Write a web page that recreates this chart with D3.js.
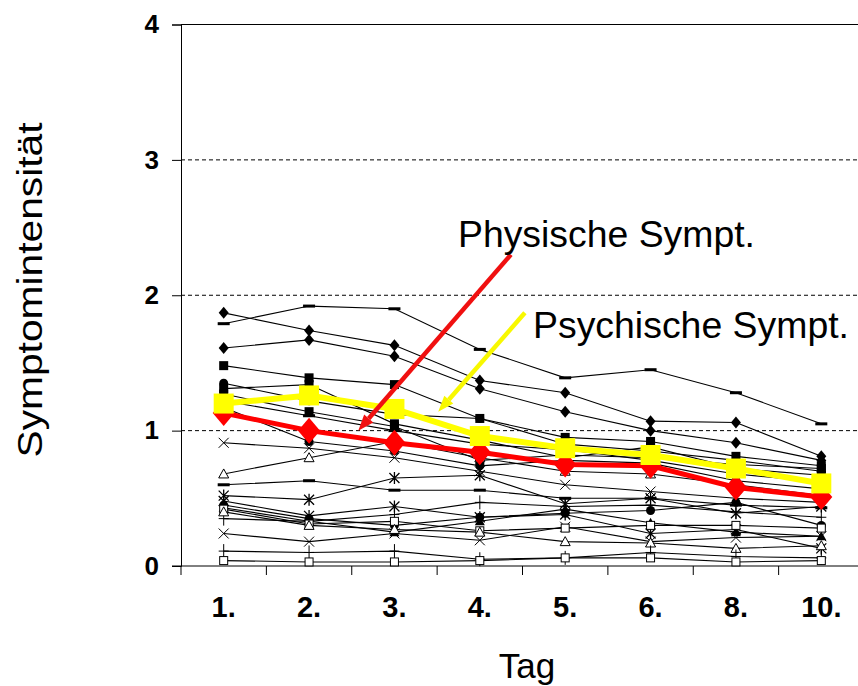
<!DOCTYPE html>
<html>
<head>
<meta charset="utf-8">
<script src="https://cdn.jsdelivr.net/npm/d3@7"></script>
<style>
  html, body { margin: 0; padding: 0; background: #fff; }
  svg { display: block; }
  text { font-family: "Liberation Sans", Arial, sans-serif; fill: #000; }
</style>
</head>
<body>
<svg id="chart" width="858" height="686"></svg>
<script>
// Days of observation and y-axis ticks
const days = ["1.", "2.", "3.", "4.", "5.", "6.", "8.", "10."];
const yTicks = [0, 1, 2, 3, 4];

// Group means
const physisch  = [1.13, 1.00, 0.91, 0.84, 0.75, 0.74, 0.58, 0.51];
const psychisch = [1.20, 1.26, 1.16, 0.96, 0.87, 0.82, 0.72, 0.61];

// Individual courses (one array per person) and their marker shapes
const p01 = [1.79, 1.92, 1.90, 1.60, 1.39, 1.45, 1.28, 1.05];
const p02 = [1.87, 1.74, 1.63, 1.37, 1.28, 1.07, 1.06, 0.81];
const p03 = [1.61, 1.67, 1.55, 1.31, 1.14, 1.00, 0.91, 0.78];
const p04 = [1.48, 1.39, 1.34, 1.09, 0.95, 0.92, 0.81, 0.74];
const p05 = [1.35, 1.22, 1.12, 1.09, 0.90, 0.85, 0.78, 0.70];
const p06 = [1.31, 1.34, 1.05, 0.93, 0.80, 0.88, 0.72, 0.67];
const p07 = [1.27, 1.14, 1.03, 0.78, 0.82, 0.80, 0.75, 0.72];
const p08 = [1.22, 1.11, 1.00, 0.90, 0.86, 0.78, 0.68, 0.62];
const p09 = [1.17, 0.92, 0.85, 0.74, 0.78, 0.76, 0.63, 0.57];
const p10 = [0.91, 0.87, 0.80, 0.70, 0.60, 0.55, 0.50, 0.47];
const p11 = [0.68, 0.80, 0.92, 0.80, 0.70, 0.68, 0.60, 0.52];
const p12 = [0.60, 0.63, 0.56, 0.56, 0.50, 0.50, 0.45, 0.43];
const p13 = [0.52, 0.49, 0.65, 0.67, 0.46, 0.50, 0.39, 0.44];
const p14 = [0.45, 0.35, 0.30, 0.36, 0.39, 0.41, 0.47, 0.30];
const p15 = [0.43, 0.33, 0.25, 0.33, 0.42, 0.32, 0.25, 0.22];
const p16 = [0.48, 0.37, 0.44, 0.36, 0.38, 0.24, 0.27, 0.13];
const p17 = [0.35, 0.33, 0.38, 0.47, 0.44, 0.45, 0.40, 0.36];
const p18 = [0.24, 0.18, 0.24, 0.19, 0.29, 0.18, 0.21, 0.22];
const p19 = [0.42, 0.31, 0.33, 0.26, 0.28, 0.30, 0.30, 0.28];
const p20 = [0.40, 0.30, 0.27, 0.25, 0.18, 0.17, 0.13, 0.15];
const p21 = [0.11, 0.10, 0.11, 0.05, 0.06, 0.10, 0.07, 0.06];
const p22 = [0.04, 0.03, 0.03, 0.04, 0.06, 0.06, 0.03, 0.04];
const persons = [p01, p02, p03, p04, p05, p06, p07, p08, p09, p10, p11,
                 p12, p13, p14, p15, p16, p17, p18, p19, p20, p21, p22];
const personMarkers = ["dash", "diamond", "diamond", "square", "circle", "square",
                       "square", "dash", "circle", "x", "triOpen", "dash", "star",
                       "circle", "triangle", "star", "plus", "x", "sqOpen",
                       "triOpen", "plus", "sqOpen"];

// Annotations: label text, anchor [day index, value]; arrows from -> to
const labelTexts = ["Physische Sympt.", "Psychische Sympt."];
const labelAnchors = [[2.744, 2.356], [3.623, 1.684]];
const labelWidths = [297, 316];
const arrowFrom = [[3.364, 2.30], [3.528, 1.87]];
const arrowTo   = [[1.576, 1.00], [2.513, 1.14]];
const arrowColors = ["#f01010", "#f8f800"];

const svg = d3.select("#chart");

const x = d3.scaleBand().domain(days).range([181, 864]).paddingInner(0).paddingOuter(0);
const xi = d3.scaleLinear().domain([-0.5, days.length - 0.5]).range([181, 864]);
const y = d3.scaleLinear().domain([0, 4]).range([566, 24.5]);
const cx = d => x(d) + x.bandwidth() / 2;

// Gridlines: dashed at 1..3, solid frame line at 4
svg.append("g").selectAll("line").data(yTicks.filter(v => v > 0)).join("line")
  .attr("x1", 181).attr("x2", 858)
  .attr("y1", d => y(d)).attr("y2", d => y(d))
  .attr("stroke", "#000").attr("stroke-width", 1)
  .attr("stroke-dasharray", d => d === 4 ? null : "4,3");

// Y axis
const yAxis = d3.axisLeft(y).tickValues(yTicks).tickSize(9).tickPadding(13)
  .tickFormat(d3.format("d"));
const gy = svg.append("g").attr("transform", "translate(181,0)").call(yAxis);
gy.select(".domain").attr("stroke", "#000");
gy.selectAll(".tick line").attr("stroke", "#000");
gy.selectAll("text").attr("font-size", 26).attr("font-weight", "bold")
  .attr("font-family", "'Liberation Sans', Arial, sans-serif").attr("fill", "#000");

// X axis
const xAxis = d3.axisBottom(x).tickSize(0).tickPadding(30);
const gx = svg.append("g").attr("transform", "translate(0,566)").call(xAxis);
gx.select(".domain").remove();
gx.selectAll("text").attr("font-size", 29).attr("font-weight", "bold")
  .attr("font-family", "'Liberation Sans', Arial, sans-serif").attr("fill", "#000");
svg.append("line").attr("x1", 172).attr("x2", 858).attr("y1", y(0)).attr("y2", y(0))
  .attr("stroke", "#000");
svg.append("g").selectAll("line").data(d3.range(days.length)).join("line")
  .attr("x1", i => xi(i - 0.5)).attr("x2", i => xi(i - 0.5))
  .attr("y1", y(0)).attr("y2", y(0) + 9).attr("stroke", "#000");

// Axis titles
svg.append("text").attr("x", 527).attr("y", 678).attr("text-anchor", "middle")
  .attr("font-size", 35).text("Tag");
svg.append("text").attr("transform", "translate(42,290) rotate(-90)")
  .attr("text-anchor", "middle").attr("font-size", 35)
  .attr("textLength", 335).attr("lengthAdjust", "spacingAndGlyphs")
  .text("Symptomintensität");

// Marker drawing
function marker(g, type, px, py) {
  const k = "#000";
  switch (type) {
    case "diamond":
      g.append("path").attr("d", `M${px},${py - 6}L${px + 5},${py}L${px},${py + 6}L${px - 5},${py}Z`).attr("fill", k); break;
    case "dash":
      g.append("rect").attr("x", px - 6).attr("y", py - 1.5).attr("width", 12).attr("height", 3).attr("fill", k); break;
    case "square":
      g.append("rect").attr("x", px - 4.5).attr("y", py - 4.5).attr("width", 9).attr("height", 9).attr("fill", k); break;
    case "circle":
      g.append("circle").attr("cx", px).attr("cy", py).attr("r", 4.5).attr("fill", k); break;
    case "triangle":
      g.append("path").attr("d", `M${px},${py - 5}L${px + 5},${py + 4}L${px - 5},${py + 4}Z`).attr("fill", k); break;
    case "triOpen":
      g.append("path").attr("d", `M${px},${py - 5}L${px + 5},${py + 4}L${px - 5},${py + 4}Z`).attr("fill", "#fff").attr("stroke", k); break;
    case "sqOpen":
      g.append("rect").attr("x", px - 4).attr("y", py - 4).attr("width", 8).attr("height", 8).attr("fill", "#fff").attr("stroke", k); break;
    case "x":
      g.append("path").attr("d", `M${px - 5},${py - 5}L${px + 5},${py + 5}M${px - 5},${py + 5}L${px + 5},${py - 5}`).attr("stroke", k); break;
    case "star":
      g.append("path").attr("d", `M${px - 5},${py - 5}L${px + 5},${py + 5}M${px - 5},${py + 5}L${px + 5},${py - 5}M${px},${py - 6}L${px},${py + 6}`).attr("stroke", k).attr("stroke-width", 1.3); break;
    case "plus":
      g.append("path").attr("d", `M${px},${py - 7}L${px},${py + 7}M${px - 5},${py}L${px + 5},${py}`).attr("stroke", k); break;
  }
}

// Individual courses
const line = d3.line().x((v, i) => cx(days[i])).y(v => y(v));
const gp = svg.append("g");
persons.forEach(s => {
  gp.append("path").attr("d", line(s)).attr("fill", "none").attr("stroke", "#000").attr("stroke-width", 1.1);
});
persons.forEach((s, j) => {
  s.forEach((v, i) => marker(gp, personMarkers[j], cx(days[i]), y(v)));
});

// Mean: physical symptoms (red diamonds)
const gm = svg.append("g");
gm.append("path").attr("d", line(physisch)).attr("fill", "none")
  .attr("stroke", "#f00").attr("stroke-width", 5);
gm.selectAll("path.rd").data(physisch).join("path").attr("class", "rd")
  .attr("d", (v, i) => { const px = cx(days[i]), py = y(v);
    return `M${px},${py - 13}L${px + 11},${py}L${px},${py + 13}L${px - 11},${py}Z`; })
  .attr("fill", "#f00");

// Mean: psychological symptoms (yellow squares)
gm.append("path").attr("d", line(psychisch)).attr("fill", "none")
  .attr("stroke", "#ffff00").attr("stroke-width", 6);
gm.selectAll("rect.ys").data(psychisch).join("rect").attr("class", "ys")
  .attr("x", (v, i) => cx(days[i]) - 10).attr("y", v => y(v) - 10)
  .attr("width", 20).attr("height", 20).attr("fill", "#ffff00");

// Arrows
arrowFrom.forEach((f, k) => {
  const x1 = xi(f[0]), y1 = y(f[1]), x2 = xi(arrowTo[k][0]), y2 = y(arrowTo[k][1]);
  const ang = Math.atan2(y2 - y1, x2 - x1);
  const len = 16, half = 6;
  const bx = x2 - len * Math.cos(ang), by = y2 - len * Math.sin(ang);
  const nx = -Math.sin(ang) * half, ny = Math.cos(ang) * half;
  svg.append("line").attr("x1", x1).attr("y1", y1).attr("x2", bx).attr("y2", by)
    .attr("stroke", arrowColors[k]).attr("stroke-width", 4.5);
  svg.append("path").attr("d", `M${x2},${y2}L${bx + nx},${by + ny}L${bx - nx},${by - ny}Z`)
    .attr("fill", arrowColors[k]);
});

// Labels
labelTexts.forEach((t, k) => {
  svg.append("text").attr("x", xi(labelAnchors[k][0])).attr("y", y(labelAnchors[k][1]))
    .attr("font-size", 36).attr("textLength", labelWidths[k])
    .attr("lengthAdjust", "spacingAndGlyphs").text(t);
});
</script>
</body>
</html>
